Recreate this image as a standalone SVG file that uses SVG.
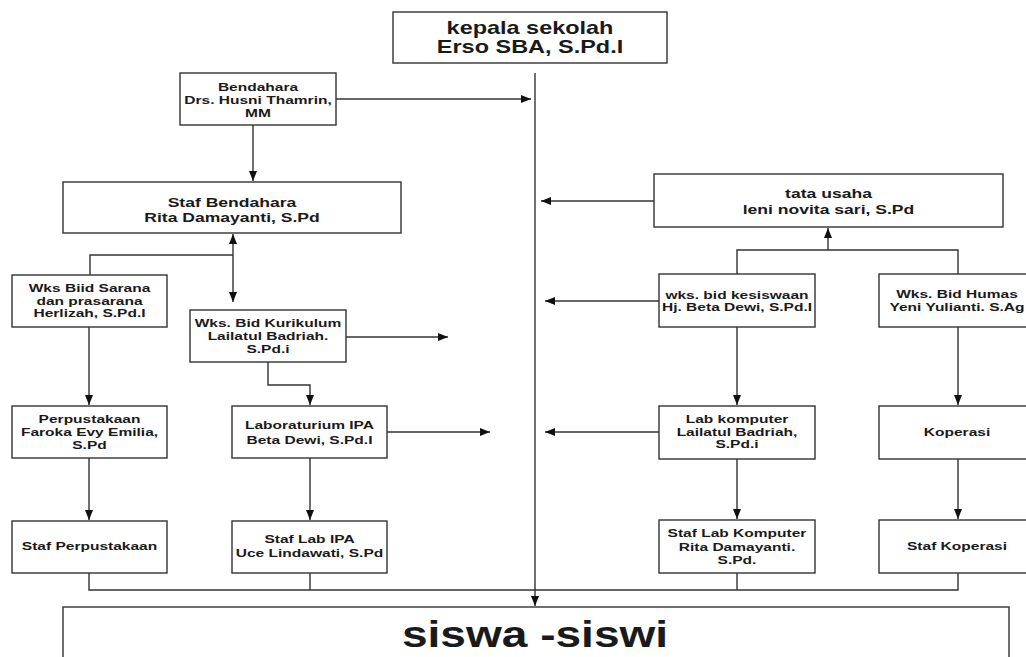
<svg xmlns="http://www.w3.org/2000/svg" width="1026" height="657" viewBox="0 0 1026 657">
<defs>
<style>
rect{fill:#fff;stroke:#333;stroke-width:1.4}
.c path{fill:none;stroke:#333;stroke-width:1.4}
text{font-family:"Liberation Sans",Arial,sans-serif;font-weight:bold;fill:#1a1a1a;text-anchor:middle}
.s{font-size:11.5px}
.m{font-size:13px}
.l{font-size:17.5px}
.xl{font-size:36px}
</style>
<marker id="a" markerUnits="userSpaceOnUse" markerWidth="10" markerHeight="8" refX="10" refY="4" orient="auto-start-reverse">
<path d="M0,0 L10,4 L0,8 z" fill="#111"/>
</marker>
</defs>
<rect x="0" y="0" width="1026" height="657" style="fill:#fff;stroke:none"/>

<g class="c" id="connectors">
<path d="M535,73 V606" marker-end="url(#a)"/>
<path d="M336,99 H531" marker-end="url(#a)"/>
<path d="M253,125 V181" marker-end="url(#a)"/>
<path d="M233,234 V302" marker-start="url(#a)" marker-end="url(#a)"/>
<path d="M233,255 H90 V275"/>
<path d="M346,337 H448" marker-end="url(#a)"/>
<path d="M89,327 V405" marker-end="url(#a)"/>
<path d="M268,362 V385 H310 V405" marker-end="url(#a)"/>
<path d="M89,458 V520" marker-end="url(#a)"/>
<path d="M310,458 V520" marker-end="url(#a)"/>
<path d="M387,432 H490" marker-end="url(#a)"/>
<path d="M89,573 V590 H958 V573"/>
<path d="M310,573 V590"/>
<path d="M737,573 V590"/>
<path d="M654,201 H541" marker-end="url(#a)"/>
<path d="M737,274 V250 H958 V274"/>
<path d="M828,250 V228" marker-end="url(#a)"/>
<path d="M659,301 H545" marker-end="url(#a)"/>
<path d="M737,327 V405" marker-end="url(#a)"/>
<path d="M958,327 V405" marker-end="url(#a)"/>
<path d="M659,432 H545" marker-end="url(#a)"/>
<path d="M737,459 V519" marker-end="url(#a)"/>
<path d="M958,459 V519" marker-end="url(#a)"/>
</g>

<g id="kepala">
<rect x="393" y="12" width="274" height="51"/>
<g transform="translate(530 0) scale(1.34 1)"><text class="l" y="34">kepala sekolah</text><text class="l" y="53">Erso SBA, S.Pd.I</text></g>
</g>

<g id="bendahara">
<rect x="180" y="73" width="156" height="52"/>
<g transform="translate(258 0) scale(1.35 1)"><text class="s" y="91">Bendahara</text><text class="s" y="104">Drs. Husni Thamrin,</text><text class="s" y="117">MM</text></g>
</g>

<g id="staf-bendahara">
<rect x="63" y="182" width="338" height="51"/>
<g transform="translate(232 0) scale(1.35 1)"><text class="m" y="207">Staf Bendahara</text><text class="m" y="222">Rita Damayanti, S.Pd</text></g>
</g>

<g id="sarana">
<rect x="12" y="275" width="155" height="52"/>
<g transform="translate(89.5 0) scale(1.35 1)"><text class="s" y="292">Wks Biid Sarana</text><text class="s" y="305">dan prasarana</text><text class="s" y="317">Herlizah, S.Pd.I</text></g>
</g>

<g id="kurikulum">
<rect x="190" y="310" width="156" height="52"/>
<g transform="translate(268 0) scale(1.35 1)"><text class="s" y="327">Wks. Bid Kurikulum</text><text class="s" y="340">Lailatul Badriah.</text><text class="s" y="353">S.Pd.i</text></g>
</g>

<g id="perpustakaan">
<rect x="12" y="406" width="155" height="52"/>
<g transform="translate(89.5 0) scale(1.35 1)"><text class="s" y="423">Perpustakaan</text><text class="s" y="436">Faroka Evy Emilia,</text><text class="s" y="449">S.Pd</text></g>
</g>

<g id="lab-ipa">
<rect x="232" y="406" width="155" height="52"/>
<g transform="translate(309.5 0) scale(1.35 1)"><text class="s" y="429">Laboraturium IPA</text><text class="s" y="444">Beta Dewi, S.Pd.I</text></g>
</g>

<g id="staf-perpustakaan">
<rect x="12" y="521" width="155" height="52"/>
<g transform="translate(89.5 0) scale(1.35 1)"><text class="s" y="550">Staf Perpustakaan</text></g>
</g>

<g id="staf-lab-ipa">
<rect x="232" y="521" width="155" height="52"/>
<g transform="translate(309.5 0) scale(1.35 1)"><text class="s" y="543">Staf Lab IPA</text><text class="s" y="557">Uce Lindawati, S.Pd</text></g>
</g>

<g id="tata-usaha">
<rect x="654" y="174" width="349" height="53"/>
<g transform="translate(828.5 0) scale(1.35 1)"><text class="m" y="198">tata usaha</text><text class="m" y="214">leni novita sari, S.Pd</text></g>
</g>

<g id="kesiswaan">
<rect x="659" y="274" width="156" height="53"/>
<g transform="translate(737 0) scale(1.35 1)"><text class="s" y="299">wks. bid kesiswaan</text><text class="s" y="311">Hj. Beta Dewi, S.Pd.I</text></g>
</g>

<g id="humas">
<rect x="879" y="274" width="156" height="53"/>
<g transform="translate(957 0) scale(1.35 1)"><text class="s" y="298">Wks. Bid Humas</text><text class="s" y="311">Yeni Yulianti. S.Ag</text></g>
</g>

<g id="lab-komputer">
<rect x="659" y="406" width="156" height="53"/>
<g transform="translate(737 0) scale(1.35 1)"><text class="s" y="423">Lab komputer</text><text class="s" y="436">Lailatul Badriah,</text><text class="s" y="448">S.Pd.i</text></g>
</g>

<g id="koperasi">
<rect x="879" y="406" width="156" height="53"/>
<g transform="translate(957 0) scale(1.35 1)"><text class="s" y="436">Koperasi</text></g>
</g>

<g id="staf-lab-komputer">
<rect x="659" y="520" width="156" height="53"/>
<g transform="translate(737 0) scale(1.35 1)"><text class="s" y="537">Staf Lab Komputer</text><text class="s" y="551">Rita Damayanti.</text><text class="s" y="564">S.Pd.</text></g>
</g>

<g id="staf-koperasi">
<rect x="879" y="520" width="156" height="53"/>
<g transform="translate(957 0) scale(1.35 1)"><text class="s" y="550">Staf Koperasi</text></g>
</g>

<g id="siswa">
<rect x="63" y="607" width="946" height="70"/>
<g transform="translate(535 0) scale(1.28 1)"><text class="xl" y="647">siswa -siswi</text></g>
</g>
</svg>
